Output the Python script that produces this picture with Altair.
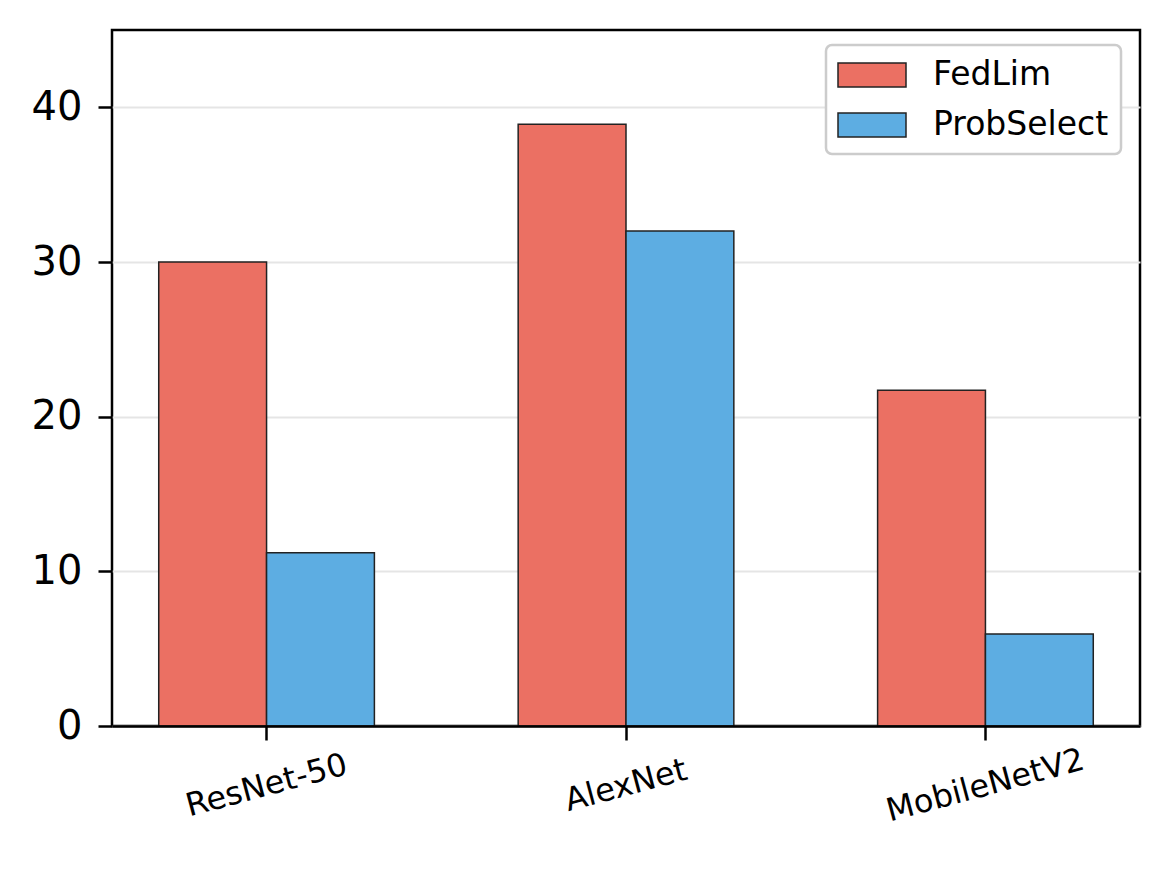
import altair as alt
import pandas as pd

models = ["ResNet-50", "AlexNet", "MobileNetV2"]
series = ["FedLim", "ProbSelect"]
fedlim = [30.0, 38.9, 21.7]
probselect = [11.2, 32.0, 5.95]
colors = ["#EB7063", "#5DADE2"]

rows = []
for m, a, b in zip(models, fedlim, probselect):
    rows.append({"Model": m, "Method": series[0], "Value": a})
    rows.append({"Model": m, "Method": series[1], "Value": b})
df = pd.DataFrame(rows)

font = "DejaVu Sans"

chart = alt.Chart(df).mark_bar(stroke="#222222", strokeWidth=1.5, opacity=1).encode(
    x=alt.X("Model:N", sort=models, title=None,
            scale=alt.Scale(paddingInner=0.4, paddingOuter=0.13),
            axis=alt.Axis(labelAngle=-15, labelAlign="center", labelBaseline="middle",
                          labelPadding=45, labelFontSize=32, labelFont=font, labelLimit=0,
                          labelColor="black", tickColor="black", tickWidth=2.5,
                          tickSize=14, domain=True, domainColor="black", domainWidth=2.5,
                          grid=False, zindex=1)),
    xOffset=alt.XOffset("Method:N", sort=series, scale=alt.Scale(paddingInner=0, paddingOuter=0)),
    y=alt.Y("Value:Q", title=None,
            scale=alt.Scale(domain=[0, 45], nice=False, zero=True),
            axis=alt.Axis(values=[0, 10, 20, 30, 40], labelFontSize=40, labelFont=font,
                          labelColor="black", tickColor="black", tickWidth=2.5,
                          tickSize=14, labelPadding=16, domain=False,
                          grid=True, gridColor="#e5e5e5", gridWidth=2)),
    color=alt.Color("Method:N", sort=series,
                    scale=alt.Scale(domain=series, range=colors),
                    legend=alt.Legend(title=None, orient="none", legendX=714, legendY=15,
                                      symbolType="M-2,-0.7H2V0.7H-2Z", symbolSize=1156,
                                      symbolOffset=16,
                                      symbolStrokeColor="#222222", symbolStrokeWidth=1.5,
                                      symbolOpacity=1, labelLimit=0,
                                      labelFontSize=33, labelFont=font, labelColor="black",
                                      labelOffset=43, rowPadding=15, padding=12,
                                      strokeColor="#cccccc", fillColor="white",
                                      cornerRadius=6)),
).properties(
    width=1028, height=696,
    padding={"left": 104, "top": 22, "right": 21, "bottom": 120},
    autosize=alt.AutoSizeParams(type="none"),
).configure_view(
    stroke="black", strokeWidth=2.5
).configure_legend(
    strokeWidth=2.5
)

chart.save("out.html", embed_options={"renderer": "svg", "actions": False})
